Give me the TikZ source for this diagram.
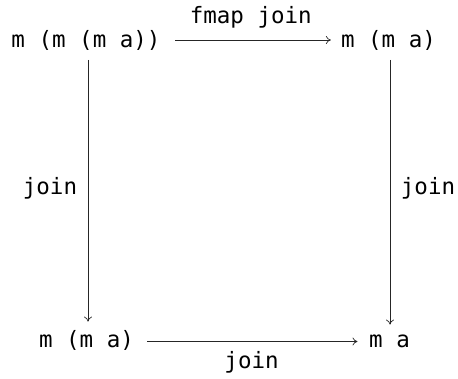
\documentclass[tikz,border=0pt]{standalone}
\usepackage{fontspec}
\setmonofont{DejaVu Sans Mono}
\usetikzlibrary{arrows.meta}
\tikzset{
  obj/.style={inner sep=0pt, font=\ttfamily\fontsize{22.5}{27}\selectfont, text height=16.8pt, text depth=5.6pt},
  lab/.style={inner sep=0pt, font=\ttfamily\fontsize{22.5}{27}\selectfont, text height=16.8pt, text depth=5.6pt},
  arr/.style={draw=black!85, line width=0.7pt, -{Computer Modern Rightarrow[length=5pt,width=8pt]}}
}
\begin{document}
\begin{tikzpicture}[x=1pt,y=-1pt]
\useasboundingbox (0,0) rectangle (458,378);
\node[obj] (A) at (86,41.5) {m (m (m a))};
\node[obj] (B) at (388.5,41.5) {m (m a)};
\node[obj] (C) at (86.5,342) {m (m a)};
\node[obj] (D) at (389.5,342) {m a};
\draw[arr, shorten <=14.5pt, shorten >=10pt] ([yshift=1.5pt]A.east) -- ([yshift=1.5pt]B.west)
  node[lab, midway, yshift=22pt] (L1) {fmap join};
\draw[arr, shorten <=13pt, shorten >=11.5pt] ([yshift=0.5pt]C.east) -- ([yshift=0.5pt]D.west)
  node[lab, midway, yshift=-21pt] (L2) {join};
\draw[arr, shorten <=7pt, shorten >=9pt] ([xshift=2pt]A.south) -- ([xshift=1.5pt]C.north)
  node[lab, midway, xshift=-38pt, yshift=3pt] (L3) {join};
\draw[arr, shorten <=7pt, shorten >=6pt] ([xshift=1.5pt]B.south) -- ([xshift=0.5pt]D.north)
  node[lab, midway, xshift=38pt, yshift=3pt] (L4) {join};
\end{tikzpicture}
\end{document}
